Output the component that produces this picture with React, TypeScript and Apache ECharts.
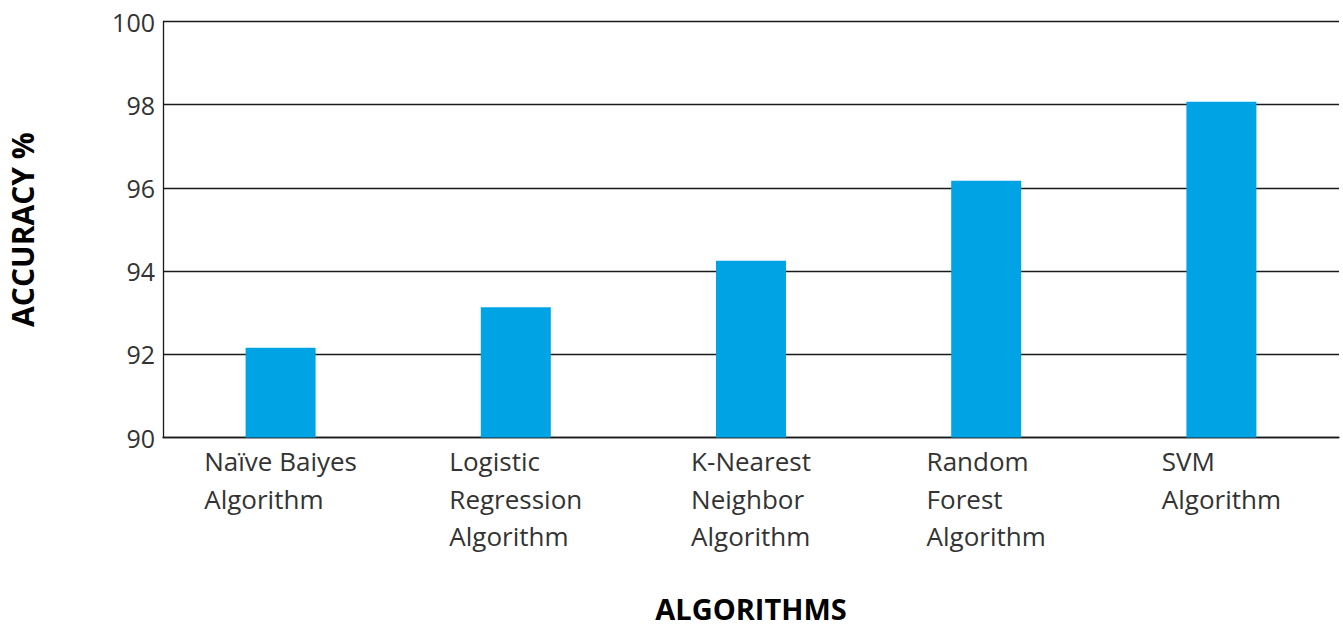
import React, { useEffect, useRef } from "react";
import * as echarts from "echarts";

// Classifier names (line breaks as shown under each bar)
const algorithms: string[] = [
  "Naïve Baiyes\nAlgorithm",
  "Logistic\nRegression\nAlgorithm",
  "K-Nearest\nNeighbor\nAlgorithm",
  "Random\nForest\nAlgorithm",
  "SVM\nAlgorithm",
];

// Accuracy (%) per classifier
const accuracy: number[] = [92.16, 93.13, 94.25, 96.17, 98.07];

// Y-axis range
const yMin = 90;
const yMax = 100;
const yStep = 2;

const FONT = "'Open Sans', 'Noto Sans', sans-serif";

export default function App() {
  const ref = useRef<HTMLDivElement>(null);

  useEffect(() => {
    document.body.style.margin = "0";
    if (!ref.current) return;
    const chart = echarts.init(ref.current, undefined, { renderer: "svg" });

    chart.setOption({
      animation: false,
      backgroundColor: "#ffffff",
      grid: {
        left: 163,
        right: 4,
        top: 21.5,
        bottom: 192.5,
        containLabel: false,
        outerBoundsMode: "none",
      },
      xAxis: {
        type: "category",
        data: algorithms,
        name: "ALGORITHMS",
        nameLocation: "middle",
        nameGap: 156,
        nameTextStyle: {
          fontFamily: FONT,
          fontSize: 29,
          lineHeight: 30,
          fontWeight: "bold",
          color: "#000",
        },
        axisTick: { show: false },
        axisLine: { lineStyle: { color: "#1a1a1a", width: 1.3 } },
        axisLabel: {
          interval: 0,
          margin: 5,
          verticalAlign: "top",
          formatter: (v: string) =>
            v
              .split("\n")
              .map((s) => `{t|${s}}`)
              .join("\n"),
          rich: {
            t: {
              align: "left",
              fontFamily: FONT,
              fontSize: 26,
              lineHeight: 37.5,
              color: "#333333",
            },
          },
        },
      },
      yAxis: {
        type: "value",
        min: yMin,
        max: yMax,
        interval: yStep,
        name: "ACCURACY %",
        nameLocation: "middle",
        nameGap: 126,
        nameRotate: 90,
        nameTextStyle: { fontFamily: FONT, fontSize: 30, fontWeight: "bold", color: "#000" },
        axisLine: { show: true, lineStyle: { color: "#1a1a1a", width: 1.3 } },
        axisTick: { show: false },
        axisLabel: { fontFamily: FONT, fontSize: 25, color: "#333333", margin: 8 },
        splitLine: { lineStyle: { color: "#1a1a1a", width: 1.3 } },
      },
      series: [
        {
          type: "bar",
          data: accuracy,
          barWidth: 70,
          itemStyle: { color: "#00A3E4" },
        },
      ],
    });

    return () => chart.dispose();
  }, []);

  return <div ref={ref} style={{ width: 1343, height: 630 }} />;
}
